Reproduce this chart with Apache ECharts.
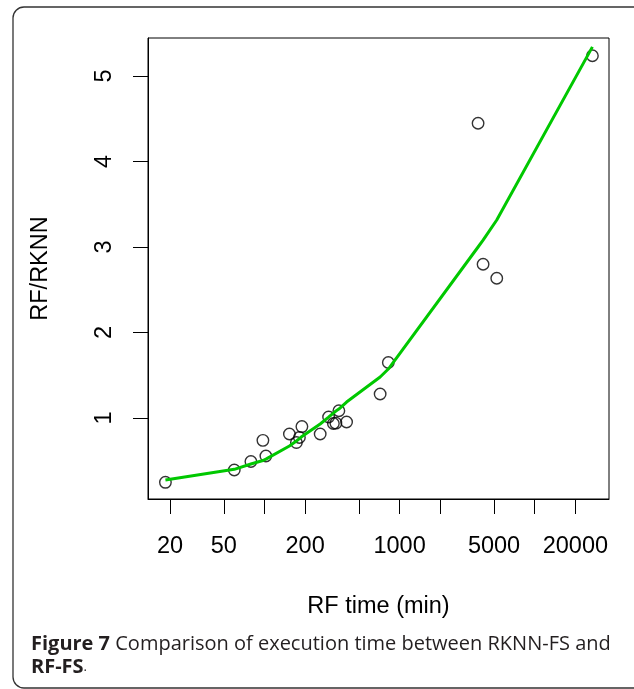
<!DOCTYPE html>
<html>
<head>
<meta charset="utf-8">
<script src="https://cdn.jsdelivr.net/npm/echarts@6/dist/echarts.min.js"></script>
<style>html,body{margin:0;padding:0;background:#fff;}#c{width:634px;height:689px;}</style>
</head>
<body>
<div id="c"></div>
<script>
// RF time (min) of each run
var rfTime = [18.5, 59.8, 79.4, 97.4, 102.5, 153, 172.4, 181.4, 189.3, 258.5, 298.3, 323.6, 337.8, 355.4, 405.3, 718, 825.6, 3809, 4148, 5236, 26720];
// RF/RKNN ratio of each run
var ratio = [0.248, 0.392, 0.491, 0.739, 0.556, 0.813, 0.713, 0.772, 0.90, 0.813, 1.012, 0.936, 0.94, 1.085, 0.953, 1.281, 1.649, 4.447, 2.798, 2.634, 5.237];
// smoothed (lowess) fit at each RF time
var fitted = [0.275, 0.40, 0.462, 0.503, 0.52, 0.673, 0.731, 0.76, 0.784, 0.93, 1.01, 1.058, 1.082, 1.105, 1.187, 1.48, 1.573, 3.0, 3.08, 3.316, 5.34];
// tick labels
var xTicks = [20, 50, 100, 200, 500, 1000, 2000, 5000, 10000, 20000];
var xLabels = [20, 50, 200, 1000, 5000, 20000];
var yTicks = [1, 2, 3, 4, 5];

var lg = function (v) { return Math.log10(v); };
var pts = rfTime.map(function (t, i) { return [lg(t), ratio[i]]; });
var fit = rfTime.map(function (t, i) { return [lg(t), fitted[i]]; });

var font = 'Liberation Sans, Arial, sans-serif';
var capFont = 'Open Sans';
var chart = echarts.init(document.getElementById('c'), null, {renderer: 'canvas'});
chart.setOption({
  animation: false,
  backgroundColor: '#fff',
  grid: {left: 148, top: 38, right: 25, bottom: 190, show: true, borderColor: '#000', borderWidth: 1},
  xAxis: {
    type: 'value', min: 1.1383, max: 4.5496,
    name: 'RF time (min)', nameLocation: 'middle', nameGap: 96,
    nameTextStyle: {fontFamily: font, fontSize: 23.5, color: '#000'},
    axisLine: {show: true, onZero: false, lineStyle: {color: '#000', width: 1}},
    axisTick: {show: true, inside: false, length: 15, lineStyle: {color: '#000', width: 1},
      customValues: xTicks.map(lg)},
    axisLabel: {show: true, margin: 36, fontFamily: font, fontSize: 23.5, color: '#000',
      customValues: xLabels.map(lg),
      formatter: function (v) { return String(Math.round(Math.pow(10, v))); }},
    splitLine: {show: false}
  },
  yAxis: {
    type: 'value', min: 0.053, max: 5.444,
    name: 'RF/RKNN', nameLocation: 'middle', nameGap: 95, nameRotate: 90,
    nameTextStyle: {fontFamily: font, fontSize: 23.5, color: '#000'},
    axisLine: {show: true, onZero: false, lineStyle: {color: '#000', width: 1}},
    axisTick: {show: true, inside: false, length: 15, lineStyle: {color: '#000', width: 1},
      customValues: yTicks},
    axisLabel: {show: true, margin: 31, rotate: 90, fontFamily: font, fontSize: 23.5, color: '#000',
      customValues: yTicks},
    splitLine: {show: false}
  },
  series: [
    {type: 'scatter', data: pts, symbol: 'circle', symbolSize: 11.5, z: 2,
     itemStyle: {color: 'rgba(0,0,0,0)', borderColor: '#000', borderWidth: 1.4}},
    {type: 'line', data: fit, showSymbol: false, symbol: 'none', z: 3,
     lineStyle: {color: '#00c800', width: 3}}
  ],
  graphic: [
    {type: 'rect', shape: {x: 13, y: 7, width: 660, height: 681, r: 11}, silent: true, z: -1,
     style: {fill: 'none', stroke: '#333', lineWidth: 1.3}},
    {type: 'text', left: 31, top: 634, silent: true,
     style: {text: '{b|Figure 7} {n|Comparison of execution time between RKNN-FS and}',
       rich: {b: {fontFamily: capFont, fontWeight: 'bold', fontSize: 20, fill: '#231f20'},
              n: {fontFamily: capFont, fontSize: 20, fill: '#231f20'}},
       font: '20px Open Sans', fill: '#231f20'}},
    {type: 'text', left: 31, top: 657, silent: true,
     style: {text: '{n|RF-FS}{s|.}',
       rich: {n: {fontFamily: capFont, fontWeight: 'bold', fontSize: 20, fill: '#231f20'},
              s: {fontFamily: capFont, fontSize: 13, fill: '#231f20'}},
       font: '20px Open Sans', fill: '#231f20'}}
  ]
});
</script>
</body>
</html>
